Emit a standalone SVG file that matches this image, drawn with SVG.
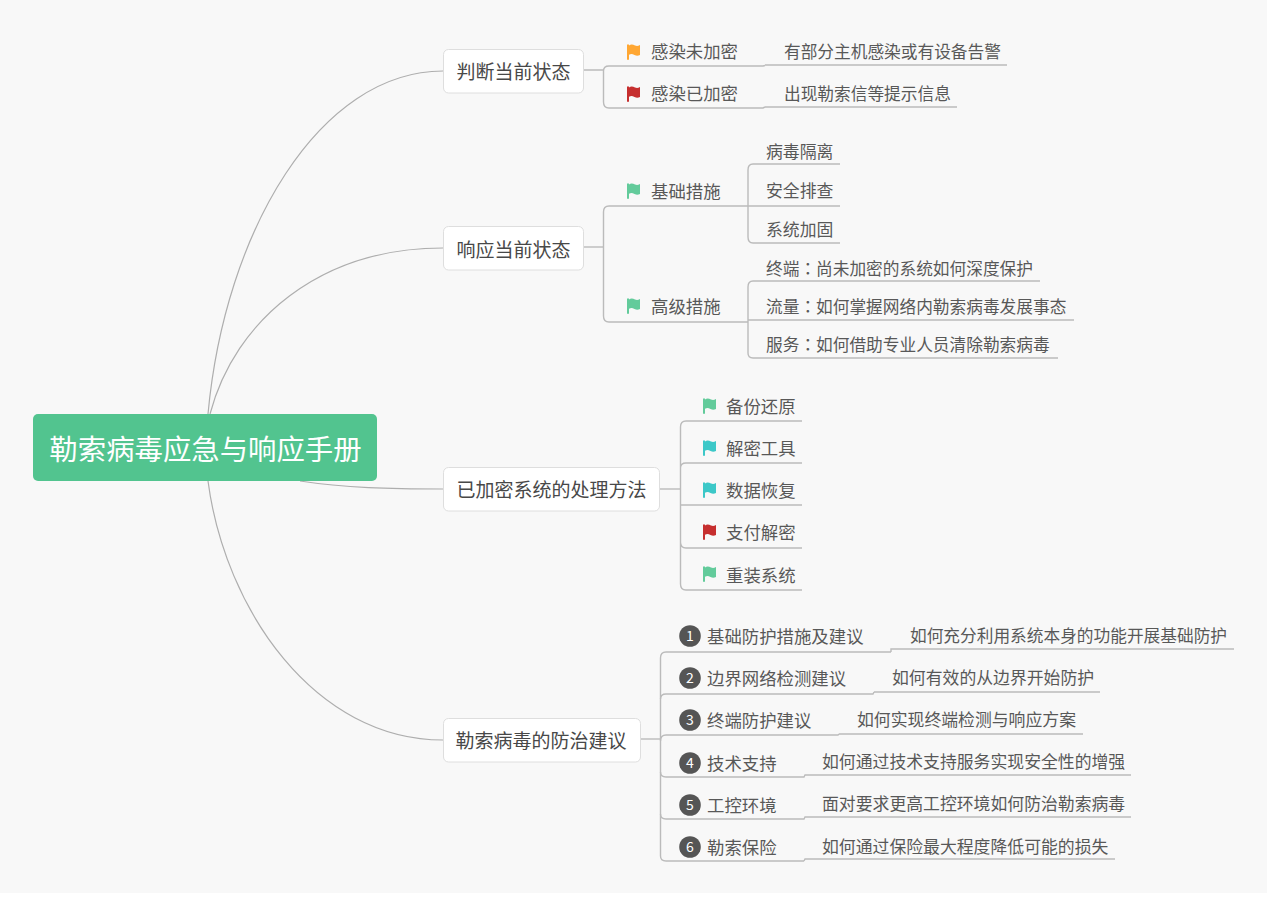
<svg xmlns="http://www.w3.org/2000/svg" width="1275" height="900" viewBox="0 0 1275 900">
<style>
text{font-family:"Noto Sans CJK SC","Noto Sans",sans-serif;fill:#585858}
.m{font-size:19px;fill:#484848;text-anchor:middle}
.s{font-size:17.4px}
.l{font-size:16.7px}
.w{font-size:16.85px}
.col{font-family:"Noto Sans CJK TC",sans-serif}
.c{fill:none;stroke:#bbb;stroke-width:1.400}
.o{fill:none;stroke:#aeaeae;stroke-width:1.200}
.b{fill:#fff;stroke:#dedede;stroke-width:1}
.n{fill:#555}
.nt{font-size:14px;fill:#fff;text-anchor:middle}
</style>
<defs>
<path id="flag" d="M0 0.500h2v1c2-1.500 4-1 6 0c2 .8 3 .5 5-.5v10c-2 1-3.500 1-5.500 0c-2-1-3.500-1.300-5.500-.2v5h-2z"/>
</defs>
<rect width="1267" height="893" fill="#f8f8f8"/>
<g id="connectors">
<path class="o" d="M208 414C225 230 320 71 443 71"/>
<path class="o" d="M210 414C235 320 320 248 443 248"/>
<path class="o" d="M300 481C345 488 390 489 443 489"/>
<path class="o" d="M208 481C225 610 315 740 443 740"/>
<path class="c" d="M583 70H603.500M765 65H1007M765 107H957"/>
<path class="c" d="M765 65.500L763 66H609Q603.500 66 603.500 71V102Q603.500 108 609 108H763L765 107"/>
<path class="c" d="M583 247H603.500"/>
<path class="c" d="M748 206H609Q603.500 206 603.500 212V316Q603.500 322 609 322H748"/>
<path class="c" d="M840 164H753Q748 164 748 170V237Q748 243 753 243H840M748 206H840"/>
<path class="c" d="M1040 281H753Q748 281 748 287V353Q748 358 753 358H1058M748 320H1074"/>
<path class="c" d="M659 489H680"/>
<path class="c" d="M802 421H686Q680.500 421 680.500 427V584Q680.500 590 686 590H802M802 463H686Q680.500 463 680.500 468M680.500 505H802M680.500 542Q680.500 548 686 548H802"/>
<path class="c" d="M640 739H660.500"/>
<path class="c" d="M891 652H666Q660.500 652 660.500 658V856Q660.500 861 666 861H804M1234 649H891V652"/>
<path class="c" d="M874 692L873 694H666Q660.500 694 660.500 699M874 692H1100"/>
<path class="c" d="M839 734L838 735H666Q660.500 735 660.500 741M839 734H1083"/>
<path class="c" d="M660.500 772Q660.500 777 666 777H804L805 775H1131"/>
<path class="c" d="M660.500 814Q660.500 819 666 819H804L805 817H1131"/>
<path class="c" d="M804 861L805 859H1115"/>
</g>
<g id="root"><rect x="33" y="414" width="344" height="67" rx="5" fill="#52c48f"/><text x="205.500" y="460" font-size="28.400" style="fill:#fff;text-anchor:middle">勒索病毒应急与响应手册</text></g>
<g id="n1"><rect class="b" x="443.500" y="49.500" width="140" height="43.500" rx="5"/><text class="m" x="513.500" y="79">判断当前状态</text></g>
<g id="n2"><rect class="b" x="443.500" y="226.500" width="140" height="43.500" rx="5"/><text class="m" x="513.500" y="257">响应当前状态</text></g>
<g id="n3"><rect class="b" x="443.500" y="467.500" width="216" height="43.500" rx="5"/><text class="m" x="551.500" y="497">已加密系统的处理方法</text></g>
<g id="n4"><rect class="b" x="443.500" y="718.500" width="197" height="43.500" rx="5"/><text class="m" x="541" y="748">勒索病毒的防治建议</text></g>
<g id="n11"><use href="#flag" x="627" y="44" fill="#ffa733"/><text class="s" x="651" y="58">感染未加密</text></g>
<g id="n12"><use href="#flag" x="627" y="86" fill="#c62f2f"/><text class="s" x="651" y="100">感染已加密</text></g>
<g id="n111"><text class="l" x="784" y="57.500">有部分主机感染或有设备告警</text></g>
<g id="n121"><text class="l" x="784" y="99.500">出现勒索信等提示信息</text></g>
<g id="n21"><use href="#flag" x="627" y="183" fill="#63cb9b"/><text class="s" x="651" y="198">基础措施</text></g>
<g id="n22"><use href="#flag" x="627" y="298" fill="#63cb9b"/><text class="s" x="651" y="313">高级措施</text></g>
<g id="n211"><text class="w" x="766" y="158">病毒隔离</text></g>
<g id="n212"><text class="w" x="766" y="197">安全排查</text></g>
<g id="n213"><text class="w" x="766" y="235.500">系统加固</text></g>
<g id="n221"><text class="l" x="766" y="274.500">终端<tspan class="col">：</tspan>尚未加密的系统如何深度保护</text></g>
<g id="n222"><text class="l" x="766" y="312.500">流量<tspan class="col">：</tspan>如何掌握网络内勒索病毒发展事态</text></g>
<g id="n223"><text class="l" x="766" y="350.500">服务<tspan class="col">：</tspan>如何借助专业人员清除勒索病毒</text></g>
<g id="n31"><use href="#flag" x="703" y="398" fill="#63cb9b"/><text class="s" x="726" y="413">备份还原</text></g>
<g id="n32"><use href="#flag" x="703" y="440" fill="#3cc8c8"/><text class="s" x="726" y="455">解密工具</text></g>
<g id="n33"><use href="#flag" x="703" y="482" fill="#3cc8c8"/><text class="s" x="726" y="497">数据恢复</text></g>
<g id="n34"><use href="#flag" x="703" y="524" fill="#c62f2f"/><text class="s" x="726" y="539">支付解密</text></g>
<g id="n35"><use href="#flag" x="703" y="566" fill="#63cb9b"/><text class="s" x="726" y="581.500">重装系统</text></g>
<g id="n41"><circle class="n" cx="690" cy="636" r="10.800"/><text class="nt" x="690" y="641">1</text><text class="s" x="707" y="643">基础防护措施及建议</text></g>
<g id="n42"><circle class="n" cx="690" cy="678" r="10.800"/><text class="nt" x="690" y="683">2</text><text class="s" x="707" y="685">边界网络检测建议</text></g>
<g id="n43"><circle class="n" cx="690" cy="720" r="10.800"/><text class="nt" x="690" y="725">3</text><text class="s" x="707" y="727">终端防护建议</text></g>
<g id="n44"><circle class="n" cx="690" cy="763" r="10.800"/><text class="nt" x="690" y="768">4</text><text class="s" x="707" y="769.500">技术支持</text></g>
<g id="n45"><circle class="n" cx="690" cy="805" r="10.800"/><text class="nt" x="690" y="810">5</text><text class="s" x="707" y="811.500">工控环境</text></g>
<g id="n46"><circle class="n" cx="690" cy="847" r="10.800"/><text class="nt" x="690" y="852">6</text><text class="s" x="707" y="853.500">勒索保险</text></g>
<g id="n411"><text class="l" x="910" y="642">如何充分利用系统本身的功能开展基础防护</text></g>
<g id="n421"><text class="w" x="892" y="684">如何有效的从边界开始防护</text></g>
<g id="n431"><text class="w" x="857" y="726">如何实现终端检测与响应方案</text></g>
<g id="n441"><text class="w" x="822" y="768">如何通过技术支持服务实现安全性的增强</text></g>
<g id="n451"><text class="w" x="822" y="810">面对要求更高工控环境如何防治勒索病毒</text></g>
<g id="n461"><text class="w" x="822" y="853">如何通过保险最大程度降低可能的损失</text></g>
</svg>
